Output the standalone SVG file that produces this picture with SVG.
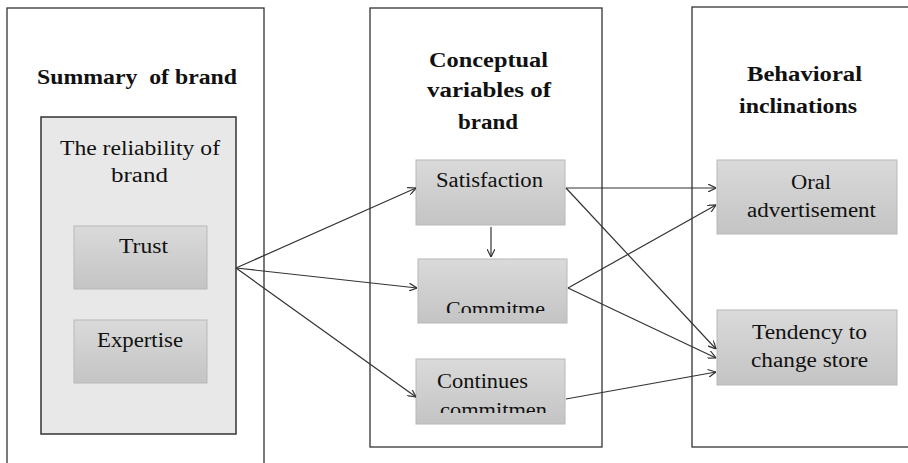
<svg xmlns="http://www.w3.org/2000/svg" width="908" height="463" viewBox="0 0 908 463">
<style>
.outer{fill:#fff;stroke:#333;stroke-width:1.3}
.inner{fill:#e8e8e8;stroke:#333;stroke-width:1.5}
.box{fill:url(#g);stroke:#b8b8b8;stroke-width:1}
.t{font-family:"Liberation Serif","Times New Roman",serif;font-size:20px;fill:#111;white-space:pre}
.b{font-weight:bold}
.c line{stroke:#333;stroke-width:1.2;marker-end:url(#a)}
</style>
<defs>
<linearGradient id="g" x1="0" y1="0" x2="0" y2="1">
<stop offset="0" stop-color="#dadada"/>
<stop offset="1" stop-color="#c4c4c4"/>
</linearGradient>
<marker id="a" viewBox="0 0 10 10" refX="10" refY="5" markerWidth="8" markerHeight="8" markerUnits="userSpaceOnUse" orient="auto">
<path d="M0,0 L10,5 L0,10" fill="none" stroke="#333" stroke-width="1.5"/>
</marker>
<clipPath id="c1"><rect x="418" y="259" width="149" height="54"/></clipPath>
<clipPath id="c2"><rect x="416" y="359" width="149" height="54"/></clipPath>
</defs>
<rect width="908" height="463" fill="#fff"/>

<g id="col-summary">
<rect class="outer" x="7" y="8" width="257" height="470"/>
<text class="t b" x="37" y="84" textLength="200" lengthAdjust="spacingAndGlyphs" xml:space="preserve">Summary  of brand</text>
</g>
<g id="reliability">
<rect class="inner" x="41" y="117" width="195" height="317"/>
<text class="t" x="60" y="155" textLength="160" lengthAdjust="spacingAndGlyphs">The reliability of</text>
<text class="t" x="111" y="182" textLength="57" lengthAdjust="spacingAndGlyphs">brand</text>
</g>
<g id="trust">
<rect class="box" x="74" y="226" width="133" height="63"/>
<text class="t" x="119" y="253" textLength="49" lengthAdjust="spacingAndGlyphs">Trust</text>
</g>
<g id="expertise">
<rect class="box" x="74" y="320" width="133" height="63"/>
<text class="t" x="97" y="347" textLength="86" lengthAdjust="spacingAndGlyphs">Expertise</text>
</g>

<g id="col-conceptual">
<rect class="outer" x="370" y="8" width="232" height="439"/>
<text class="t b" x="429" y="67" textLength="119" lengthAdjust="spacingAndGlyphs">Conceptual</text>
<text class="t b" x="427" y="97" textLength="124" lengthAdjust="spacingAndGlyphs">variables of</text>
<text class="t b" x="458" y="129" textLength="60" lengthAdjust="spacingAndGlyphs">brand</text>
</g>
<g id="satisfaction">
<rect class="box" x="416" y="160" width="149" height="65"/>
<text class="t" x="436" y="187" textLength="107" lengthAdjust="spacingAndGlyphs">Satisfaction</text>
</g>
<g id="commitment">
<rect class="box" x="418" y="259" width="149" height="64"/>
<text class="t" x="446" y="316" textLength="99" lengthAdjust="spacingAndGlyphs" clip-path="url(#c1)">Commitme</text>
</g>
<g id="continues">
<rect class="box" x="416" y="359" width="149" height="65"/>
<text class="t" x="437" y="388" textLength="91" lengthAdjust="spacingAndGlyphs">Continues</text>
<text class="t" x="440" y="417" textLength="107" lengthAdjust="spacingAndGlyphs" clip-path="url(#c2)">commitmen</text>
</g>

<g id="col-behavioral">
<rect class="outer" x="692" y="7" width="240" height="440"/>
<text class="t b" x="747" y="81" textLength="115" lengthAdjust="spacingAndGlyphs">Behavioral</text>
<text class="t b" x="739" y="113" textLength="118" lengthAdjust="spacingAndGlyphs">inclinations</text>
</g>
<g id="oral">
<rect class="box" x="717" y="160" width="180" height="74"/>
<text class="t" x="791" y="189" textLength="40" lengthAdjust="spacingAndGlyphs">Oral</text>
<text class="t" x="747" y="217" textLength="129" lengthAdjust="spacingAndGlyphs">advertisement</text>
</g>
<g id="tendency">
<rect class="box" x="717" y="310" width="180" height="75"/>
<text class="t" x="752" y="339" textLength="115" lengthAdjust="spacingAndGlyphs">Tendency to</text>
<text class="t" x="751" y="367" textLength="117" lengthAdjust="spacingAndGlyphs">change store</text>
</g>

<g id="connectors" class="c">
<line x1="236" y1="268" x2="416" y2="188"/>
<line x1="236" y1="268" x2="417" y2="288"/>
<line x1="236" y1="268" x2="416" y2="397"/>
<line x1="491" y1="227" x2="491" y2="257"/>
<line x1="566" y1="188" x2="716" y2="188"/>
<line x1="566" y1="188" x2="716" y2="349"/>
<line x1="568" y1="288" x2="716" y2="205"/>
<line x1="568" y1="288" x2="716" y2="358"/>
<line x1="566" y1="399" x2="716" y2="372"/>
</g>
</svg>
